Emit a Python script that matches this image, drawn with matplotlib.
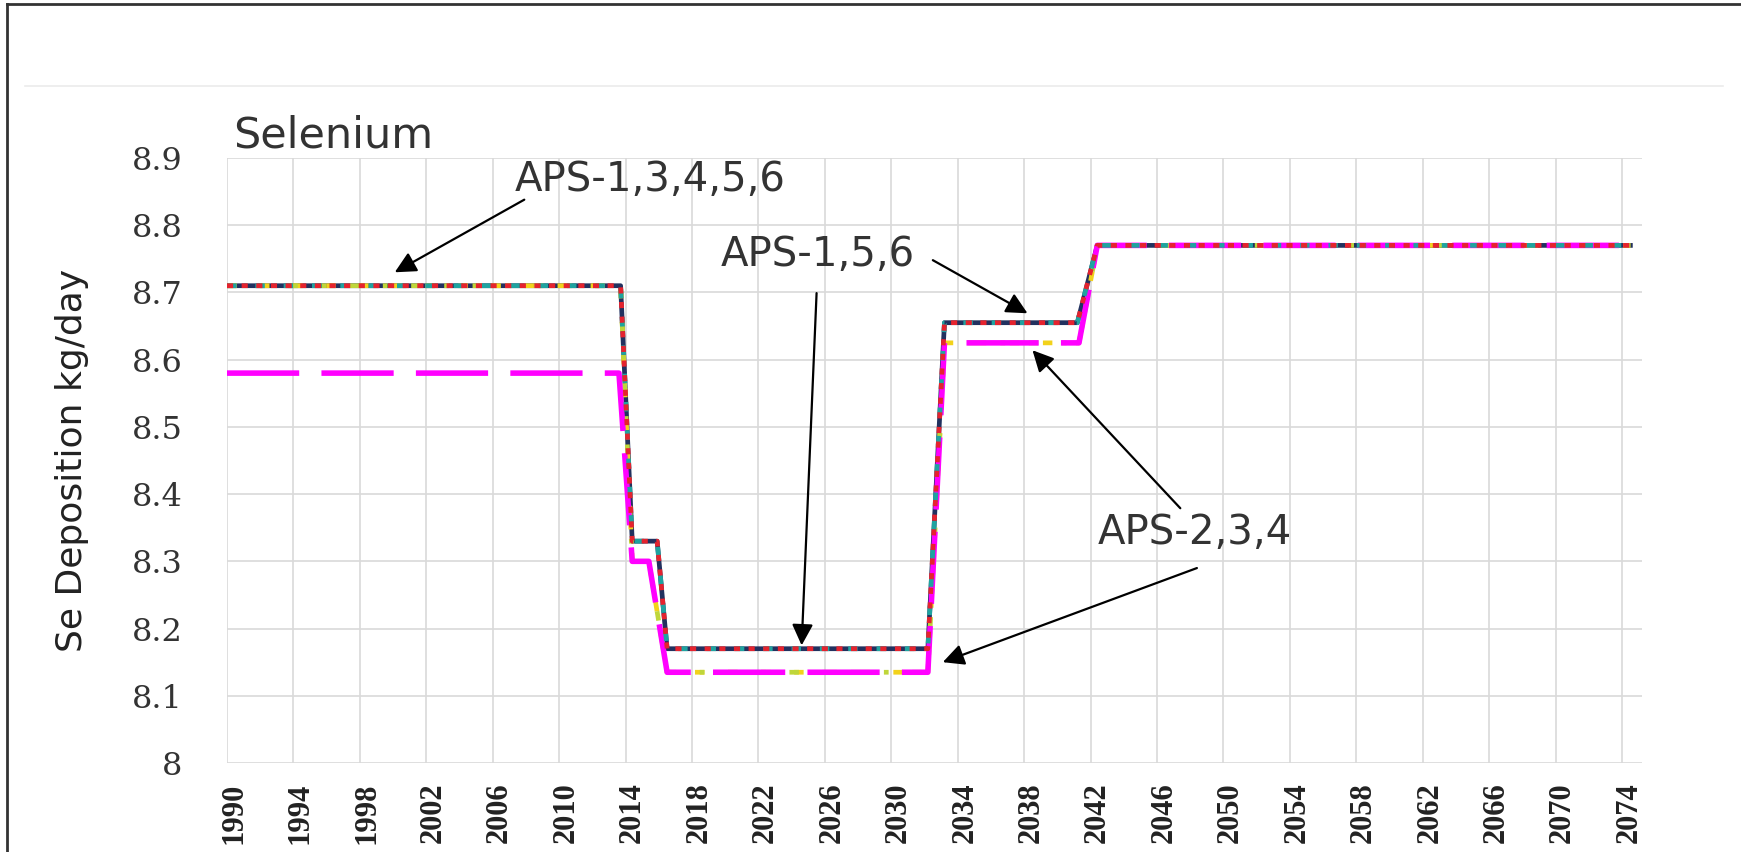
import matplotlib
matplotlib.use("Agg")
import matplotlib.pyplot as plt
from matplotlib.lines import Line2D
import matplotlib.transforms as mtransforms

# ---- data ----
# path followed by APS-1, APS-5, APS-6
upper_years = [1990, 2013.7, 2014.4, 2015.9, 2016.5, 2032.2, 2033.2, 2041.2, 2042.4, 2074.5]
upper_vals = [8.71, 8.71, 8.33, 8.33, 8.17, 8.17, 8.655, 8.655, 8.77, 8.77]
# path followed by APS-2
aps2_years = [1990, 2013.6, 2014.4, 2015.4, 2016.5, 2032.2, 2033.2, 2041.3, 2042.4, 2074.5]
aps2_vals = [8.58, 8.58, 8.30, 8.30, 8.135, 8.135, 8.625, 8.625, 8.77, 8.77]
# path followed by APS-3 and APS-4 (upper first, lower after 2013)
aps34_years = [1990, 2013.7, 2014.4, 2015.4, 2016.5, 2032.2, 2033.2, 2041.3, 2042.4, 2074.5]
aps34_vals = [8.71, 8.71, 8.30, 8.30, 8.135, 8.135, 8.625, 8.625, 8.77, 8.77]

x_ticks = list(range(1990, 2075, 4))
y_ticks = [8.0, 8.1, 8.2, 8.3, 8.4, 8.5, 8.6, 8.7, 8.8, 8.9]
y_tick_labels = ["8", "8.1", "8.2", "8.3", "8.4", "8.5", "8.6", "8.7", "8.8", "8.9"]

# annotations: (text, text position, list of arrow (tail, tip))
labels = [
    ("APS-1,3,4,5,6", (2015.5, 8.867), [((2007.9, 8.838), (2000.1, 8.730))]),
    ("APS-1,5,6", (2025.6, 8.756), [((2032.5, 8.748), (2038.2, 8.669)),
                                    ((2025.5, 8.699), (2024.6, 8.175))]),
    ("APS-2,3,4", (2048.3, 8.342), [((2047.4, 8.379), (2038.5, 8.614)),
                                    ((2048.4, 8.290), (2033.1, 8.150))]),
]

# ---- figure ----
fig = plt.figure(figsize=(17.41, 8.52), dpi=100)
fig.patch.set_facecolor("white")
ax = fig.add_axes([227 / 1741, 1 - 763 / 852, (1642 - 227) / 1741, (763 - 158) / 852])

lw = 3.4
# APS-1 navy solid
ax.plot(upper_years, upper_vals, color="#22315F", lw=lw, solid_joinstyle="round", zorder=2)
# APS-3 yellow dashed
ax.plot(aps34_years, aps34_vals, color="#F2D21B", lw=lw, dashes=(2, 5), zorder=3)
# APS-4 yellow-green dashed
ax.plot(aps34_years, aps34_vals, color="#BFD63A", lw=lw, dashes=(2, 5, 1, 5), zorder=3.1)
# APS-2 magenta long dash
ax.plot(aps2_years, aps2_vals, color="#FF00FF", lw=4.0, dashes=(13, 4), zorder=3.5)
# APS-5 teal dashed
ax.plot(upper_years, upper_vals, color="#1FA3A0", lw=lw, dashes=(2, 4), zorder=4)
# APS-6 red dotted
ax.plot(upper_years, upper_vals, color="#E5232E", lw=lw, dashes=(1.3, 1.8), zorder=6)

ax.set_xlim(1990, 2075.2)
ax.set_ylim(8.0, 8.9)
ax.set_xticks(x_ticks)
ax.set_xticklabels([str(v) for v in x_ticks], rotation=90, family="Liberation Serif",
                   fontsize=22, fontweight="bold", color="#222222")
ax.set_yticks(y_ticks)
ax.set_yticklabels(y_tick_labels, family="DejaVu Serif", fontsize=23, color="#333333")
ax.tick_params(axis="both", length=0)
ax.tick_params(axis="y", pad=32)
ax.tick_params(axis="x", pad=14)
offset = mtransforms.ScaledTranslation(7 / 100, 0, fig.dpi_scale_trans)
for lab in ax.get_xticklabels():
    lab.set_transform(lab.get_transform() + offset)
for s in ax.spines.values():
    s.set_visible(False)
ax.grid(True, color="#D9D9D9", lw=1.2)
ax.set_axisbelow(True)
ax.set_ylabel("Se Deposition kg/day", fontsize=26, color="#222222", family="DejaVu Sans")
ax.yaxis.set_label_coords(-(227 - 89) / 1415, 0.5)

for text, pos, arrows in labels:
    ax.text(pos[0], pos[1], text, fontsize=29, color="#333333", ha="center", va="center",
            family="DejaVu Sans", zorder=8)
    for tail, tip in arrows:
        ax.annotate("", xy=tip, xytext=tail,
                    arrowprops=dict(arrowstyle="-|>", color="black", lw=1.6,
                                    mutation_scale=32, shrinkA=0, shrinkB=0),
                    zorder=9)

fig.text(233 / 1741, 1 - 147 / 852, "Selenium", fontsize=31, color="#333333",
         family="DejaVu Sans", va="baseline", ha="left")

# faint separator line and border
fig.add_artist(Line2D([25 / 1741, 1723 / 1741], [1 - 86 / 852, 1 - 86 / 852],
                      color="#EBEBEB", lw=1.2, transform=fig.transFigure))
fig.add_artist(Line2D([7 / 1741, 7 / 1741], [0, 1 - 4 / 852],
                      color="#333333", lw=2.0, transform=fig.transFigure))
fig.add_artist(Line2D([7 / 1741, 1], [1 - 4 / 852, 1 - 4 / 852],
                      color="#333333", lw=2.0, transform=fig.transFigure))

fig.savefig("out.png", dpi=100, facecolor="white")
